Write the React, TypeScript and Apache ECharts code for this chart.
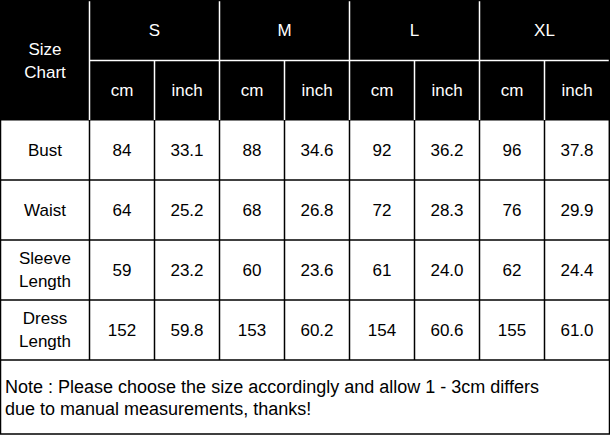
import React, { useEffect, useRef } from "react";
import * as echarts from "echarts";

const sizes = ["S", "M", "L", "XL"];
const units = ["cm", "inch"];
const rowLabels = ["Bust", "Waist", "Sleeve\nLength", "Dress\nLength"];
const cmValues = [
  [84, 88, 92, 96],
  [64, 68, 72, 76],
  [59, 60, 61, 62],
  [152, 153, 154, 155],
];
const inchValues = [
  ["33.1", "34.6", "36.2", "37.8"],
  ["25.2", "26.8", "28.3", "29.9"],
  ["23.2", "23.6", "24.0", "24.4"],
  ["59.8", "60.2", "60.6", "61.0"],
];
const cornerLabel = "Size\nChart";
const noteText =
  "Note : Please choose the size accordingly and allow 1 - 3cm differs\ndue to manual measurements, thanks!";

const FONT = "'Liberation Sans', Arial, sans-serif";

export default function App() {
  const ref = useRef<HTMLDivElement>(null);
  useEffect(() => {
    if (!ref.current) return;
    const chart = echarts.init(ref.current, undefined, { renderer: "svg" });
    const left = 0.5;
    const top = 0.5;
    const right = 609.5;
    const firstW = 89;
    const colW = 65;
    const headH = 60;
    const rowH = 60;
    const headerBottom = top + headH * 2 - 0.5;
    const tableBottom = headerBottom + rowH * rowLabels.length;
    const bottom = 434;
    const fs = 17;
    const els: any[] = [];
    els.push({
      type: "rect",
      shape: { x: left, y: top, width: right - left, height: headerBottom - top },
      style: { fill: "#000", stroke: "#000", lineWidth: 1 },
    });
    const colX = (i: number) => left + firstW + i * colW;
    for (let i = 0; i < 8; i++) {
      const x = colX(i);
      const y1 = i % 2 === 0 ? top : top + headH;
      els.push({
        type: "line",
        shape: { x1: x, y1, x2: x, y2: headerBottom },
        style: { stroke: "#fff", lineWidth: 1.5 },
      });
    }
    els.push({
      type: "line",
      shape: { x1: colX(0), y1: top + headH, x2: right, y2: top + headH },
      style: { stroke: "#fff", lineWidth: 1.5 },
    });
    els.push({
      type: "text",
      style: {
        x: left + firstW / 2,
        y: top + headH,
        text: cornerLabel,
        fill: "#fff",
        font: `${fs}px ${FONT}`,
        lineHeight: 23,
        align: "center",
        verticalAlign: "middle",
      },
    });
    sizes.forEach((s, i) => {
      els.push({
        type: "text",
        style: {
          x: colX(i * 2) + colW,
          y: top + headH / 2,
          text: s,
          fill: "#fff",
          font: `${fs}px ${FONT}`,
          align: "center",
          verticalAlign: "middle",
        },
      });
      units.forEach((u, j) => {
        els.push({
          type: "text",
          style: {
            x: colX(i * 2 + j) + colW / 2,
            y: top + headH * 1.5,
            text: u,
            fill: "#fff",
            font: `${fs}px ${FONT}`,
            align: "center",
            verticalAlign: "middle",
          },
        });
      });
    });
    for (let r = 1; r <= rowLabels.length; r++) {
      const y = headerBottom + r * rowH;
      els.push({
        type: "line",
        shape: { x1: left, y1: y, x2: right, y2: y },
        style: { stroke: "#000", lineWidth: 1.5 },
      });
    }
    for (let i = 0; i <= 8; i++) {
      const x = colX(i);
      els.push({
        type: "line",
        shape: { x1: x, y1: headerBottom, x2: x, y2: tableBottom },
        style: { stroke: "#000", lineWidth: 1.5 },
      });
    }
    els.push({
      type: "rect",
      shape: { x: left, y: top, width: right - left, height: bottom - top },
      style: { fill: "none", stroke: "#000", lineWidth: 1.5 },
    });
    rowLabels.forEach((lab, r) => {
      const cy = headerBottom + r * rowH + rowH / 2;
      els.push({
        type: "text",
        style: {
          x: left + firstW / 2,
          y: cy,
          text: lab,
          fill: "#000",
          font: `${fs}px ${FONT}`,
          lineHeight: 23,
          align: "center",
          verticalAlign: "middle",
        },
      });
      sizes.forEach((_, i) => {
        const vals = [String(cmValues[r][i]), inchValues[r][i]];
        vals.forEach((v, j) => {
          els.push({
            type: "text",
            style: {
              x: colX(i * 2 + j) + colW / 2,
              y: cy,
              text: v,
              fill: "#000",
              font: `${fs}px ${FONT}`,
              align: "center",
              verticalAlign: "middle",
            },
          });
        });
      });
    });
    els.push({
      type: "text",
      style: {
        x: 5,
        y: (tableBottom + bottom) / 2 + 0.5,
        text: noteText,
        fill: "#000",
        font: `18px ${FONT}`,
        lineHeight: 22,
        align: "left",
        verticalAlign: "middle",
      },
    });

    chart.setOption({
      animation: false,
      backgroundColor: "#fff",
      graphic: { elements: els },
    });
    return () => chart.dispose();
  }, []);
  return (
    <div
      ref={ref}
      style={{ position: "fixed", left: 0, top: 0, width: 610, height: 435 }}
    />
  );
}
